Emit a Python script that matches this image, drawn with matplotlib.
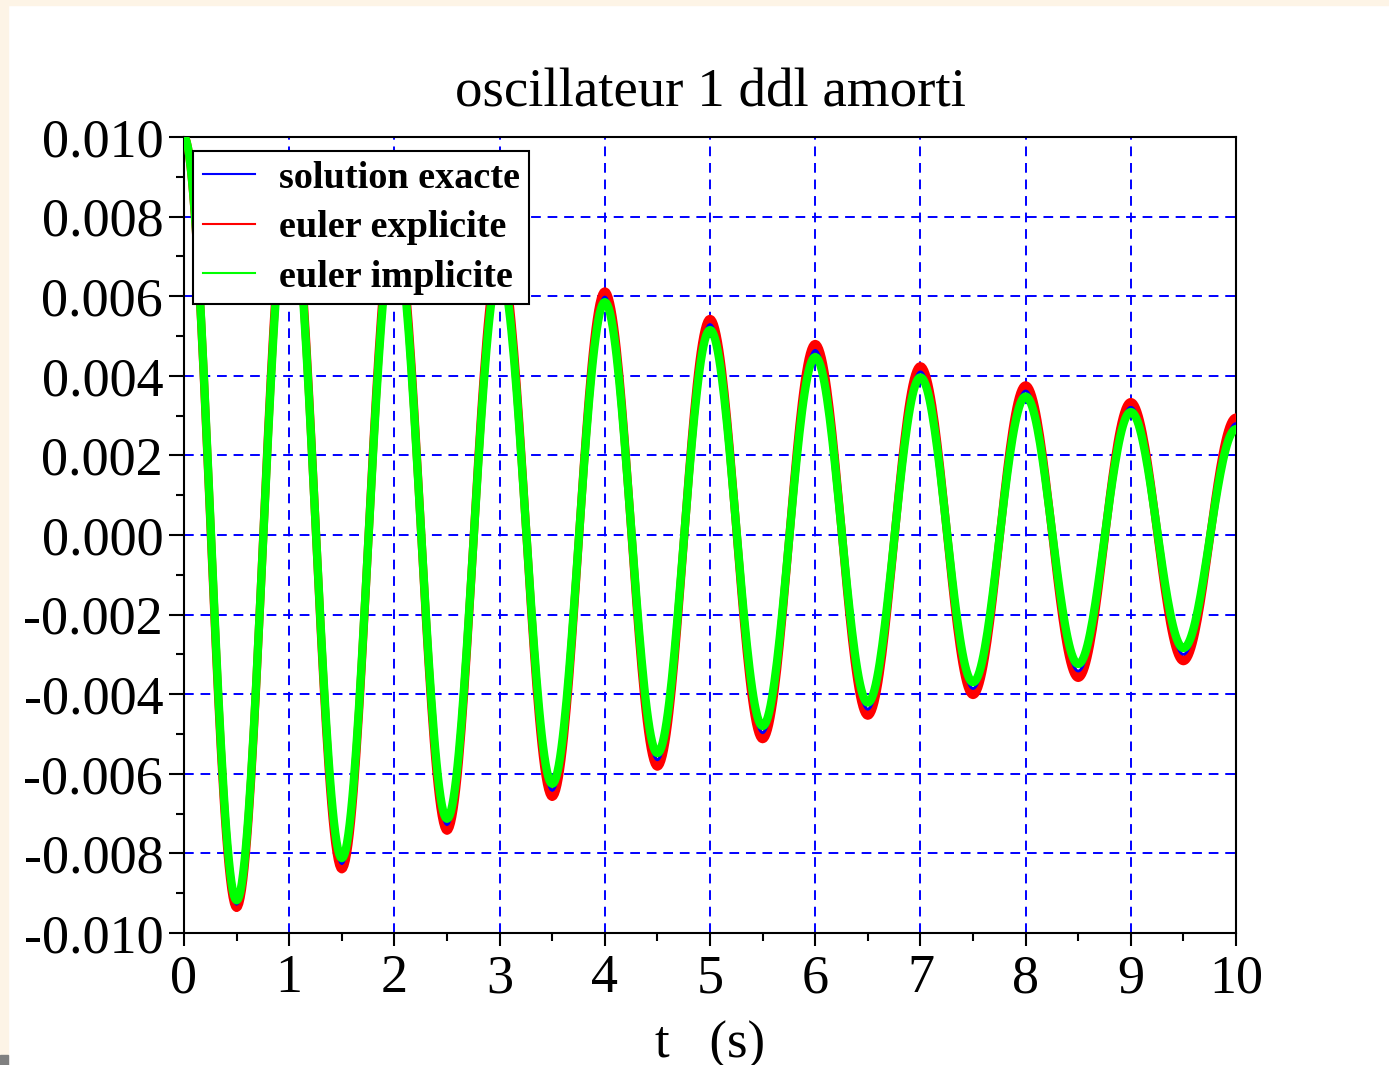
import matplotlib
matplotlib.use("Agg")
import matplotlib.pyplot as plt
import numpy as np
from matplotlib.lines import Line2D
from matplotlib.patches import Rectangle

# extrema of each response (time in s, displacement in m)
t_ext = [0.0, 0.5, 1.0, 1.5, 2.0, 2.5, 3.0, 3.5, 4.0, 4.5, 5.0,
         5.5, 6.0, 6.5, 7.0, 7.5, 8.0, 8.5, 9.0, 9.5, 10.0]
exacte = [0.0100, -0.00928, 0.00882, -0.00826, 0.00778, -0.00728, 0.00685,
          -0.00642, 0.00598, -0.00565, 0.00529, -0.00497, 0.00464, -0.00438,
          0.00410, -0.00386, 0.00362, -0.00342, 0.00321, -0.00300, 0.00280]
explicite = [0.0100, -0.00937, 0.00895, -0.00840, 0.00793, -0.00743, 0.00700,
             -0.00658, 0.00612, -0.00582, 0.00543, -0.00513, 0.00480, -0.00454,
             0.00424, -0.00402, 0.00376, -0.00359, 0.00334, -0.00317, 0.00295]
implicite = [0.0100, -0.00918, 0.00868, -0.00812, 0.00762, -0.00713, 0.00668,
             -0.00625, 0.00585, -0.00548, 0.00515, -0.00480, 0.00447, -0.00421,
             0.00396, -0.00370, 0.00348, -0.00324, 0.00309, -0.00284, 0.00266]

labels = ["solution exacte", "euler explicite", "euler implicite"]
colors = ["#0000ff", "#ff0000", "#00ff00"]


def through_extrema(times, values, n=40):
    # half-cosine arcs joining successive extrema
    ts, ys = [], []
    for k in range(len(times) - 1):
        s = np.linspace(0, 1, n, endpoint=False)
        a, b = values[k], values[k + 1]
        ts.append(times[k] + s * (times[k + 1] - times[k]))
        ys.append((a + b) / 2 + (a - b) / 2 * np.cos(np.pi * s))
    ts.append([times[-1]])
    ys.append([values[-1]])
    return np.concatenate(ts), np.concatenate(ys)


plt.rcParams['font.family'] = ['Liberation Serif', 'DejaVu Serif']

fig = plt.figure(figsize=(13.89, 10.65), dpi=100, facecolor='white')
fig.patches.append(Rectangle((0, 1 - 5 / 1065), 1, 5 / 1065, transform=fig.transFigure,
                             color='#fdf4e6', zorder=0))
fig.patches.append(Rectangle((0, 0), 8 / 1389, 1, transform=fig.transFigure,
                             color='#fdf4e6', zorder=0))
fig.patches.append(Rectangle((0, 0), 8 / 1389, 10 / 1065, transform=fig.transFigure,
                             color='#808080', zorder=1))

ax = fig.add_axes([184 / 1389, 1 - 933 / 1065, 1052 / 1389, 796 / 1065])

t, y = through_extrema(t_ext, explicite)
ax.plot(t, y, color=colors[1], lw=6, zorder=3)
t, y = through_extrema(t_ext, exacte)
ax.plot(t, y, color=colors[0], lw=2, zorder=4)
t, y = through_extrema(t_ext, implicite)
ax.plot(t, y, color=colors[2], lw=6, zorder=5)

ax.set_xlim(0, 10)
ax.set_ylim(-0.010, 0.010)
ax.set_xticks(np.arange(0, 11, 1))
ax.set_xticks(np.arange(0.5, 10, 1), minor=True)
ax.set_yticks(np.arange(-0.010, 0.0101, 0.002))
ax.set_yticks(np.arange(-0.009, 0.0091, 0.002), minor=True)
ax.set_yticklabels([f"{v:.3f}" for v in np.arange(-0.010, 0.0101, 0.002)])
ax.tick_params(axis='both', which='major', labelsize=39, direction='out', width=1.5)
ax.tick_params(axis='y', which='major', length=11, pad=4)
ax.tick_params(axis='y', which='minor', length=6, width=1.5)
ax.tick_params(axis='x', which='major', length=9, pad=6)
ax.tick_params(axis='x', which='minor', length=6, width=1.5)
for sp in ax.spines.values():
    sp.set_linewidth(1.5)
    sp.set_color('black')

ax.grid(True, which='major', color='#0000ff', linestyle=(0, (5, 3.5)), lw=1.4)
ax.set_axisbelow(True)

ax.set_title("oscillateur 1 ddl amorti", fontsize=39.5, pad=22)
ax.set_xlabel("t   (s)", fontsize=38, labelpad=12)

handles = [Line2D([], [], color=c, lw=1.5) for c in colors]
leg = ax.legend(handles, labels, loc='upper left', bbox_to_anchor=(0.0086, 0.9824),
                borderaxespad=0, fancybox=False, framealpha=1, edgecolor='black',
                prop={'size': 27.5, 'weight': 'bold'}, handlelength=1.36,
                handletextpad=0.63, labelspacing=0.38, borderpad=0.25)
leg.get_frame().set_linewidth(1.5)
leg.set_zorder(10)

fig.savefig("out.png", dpi=100)
